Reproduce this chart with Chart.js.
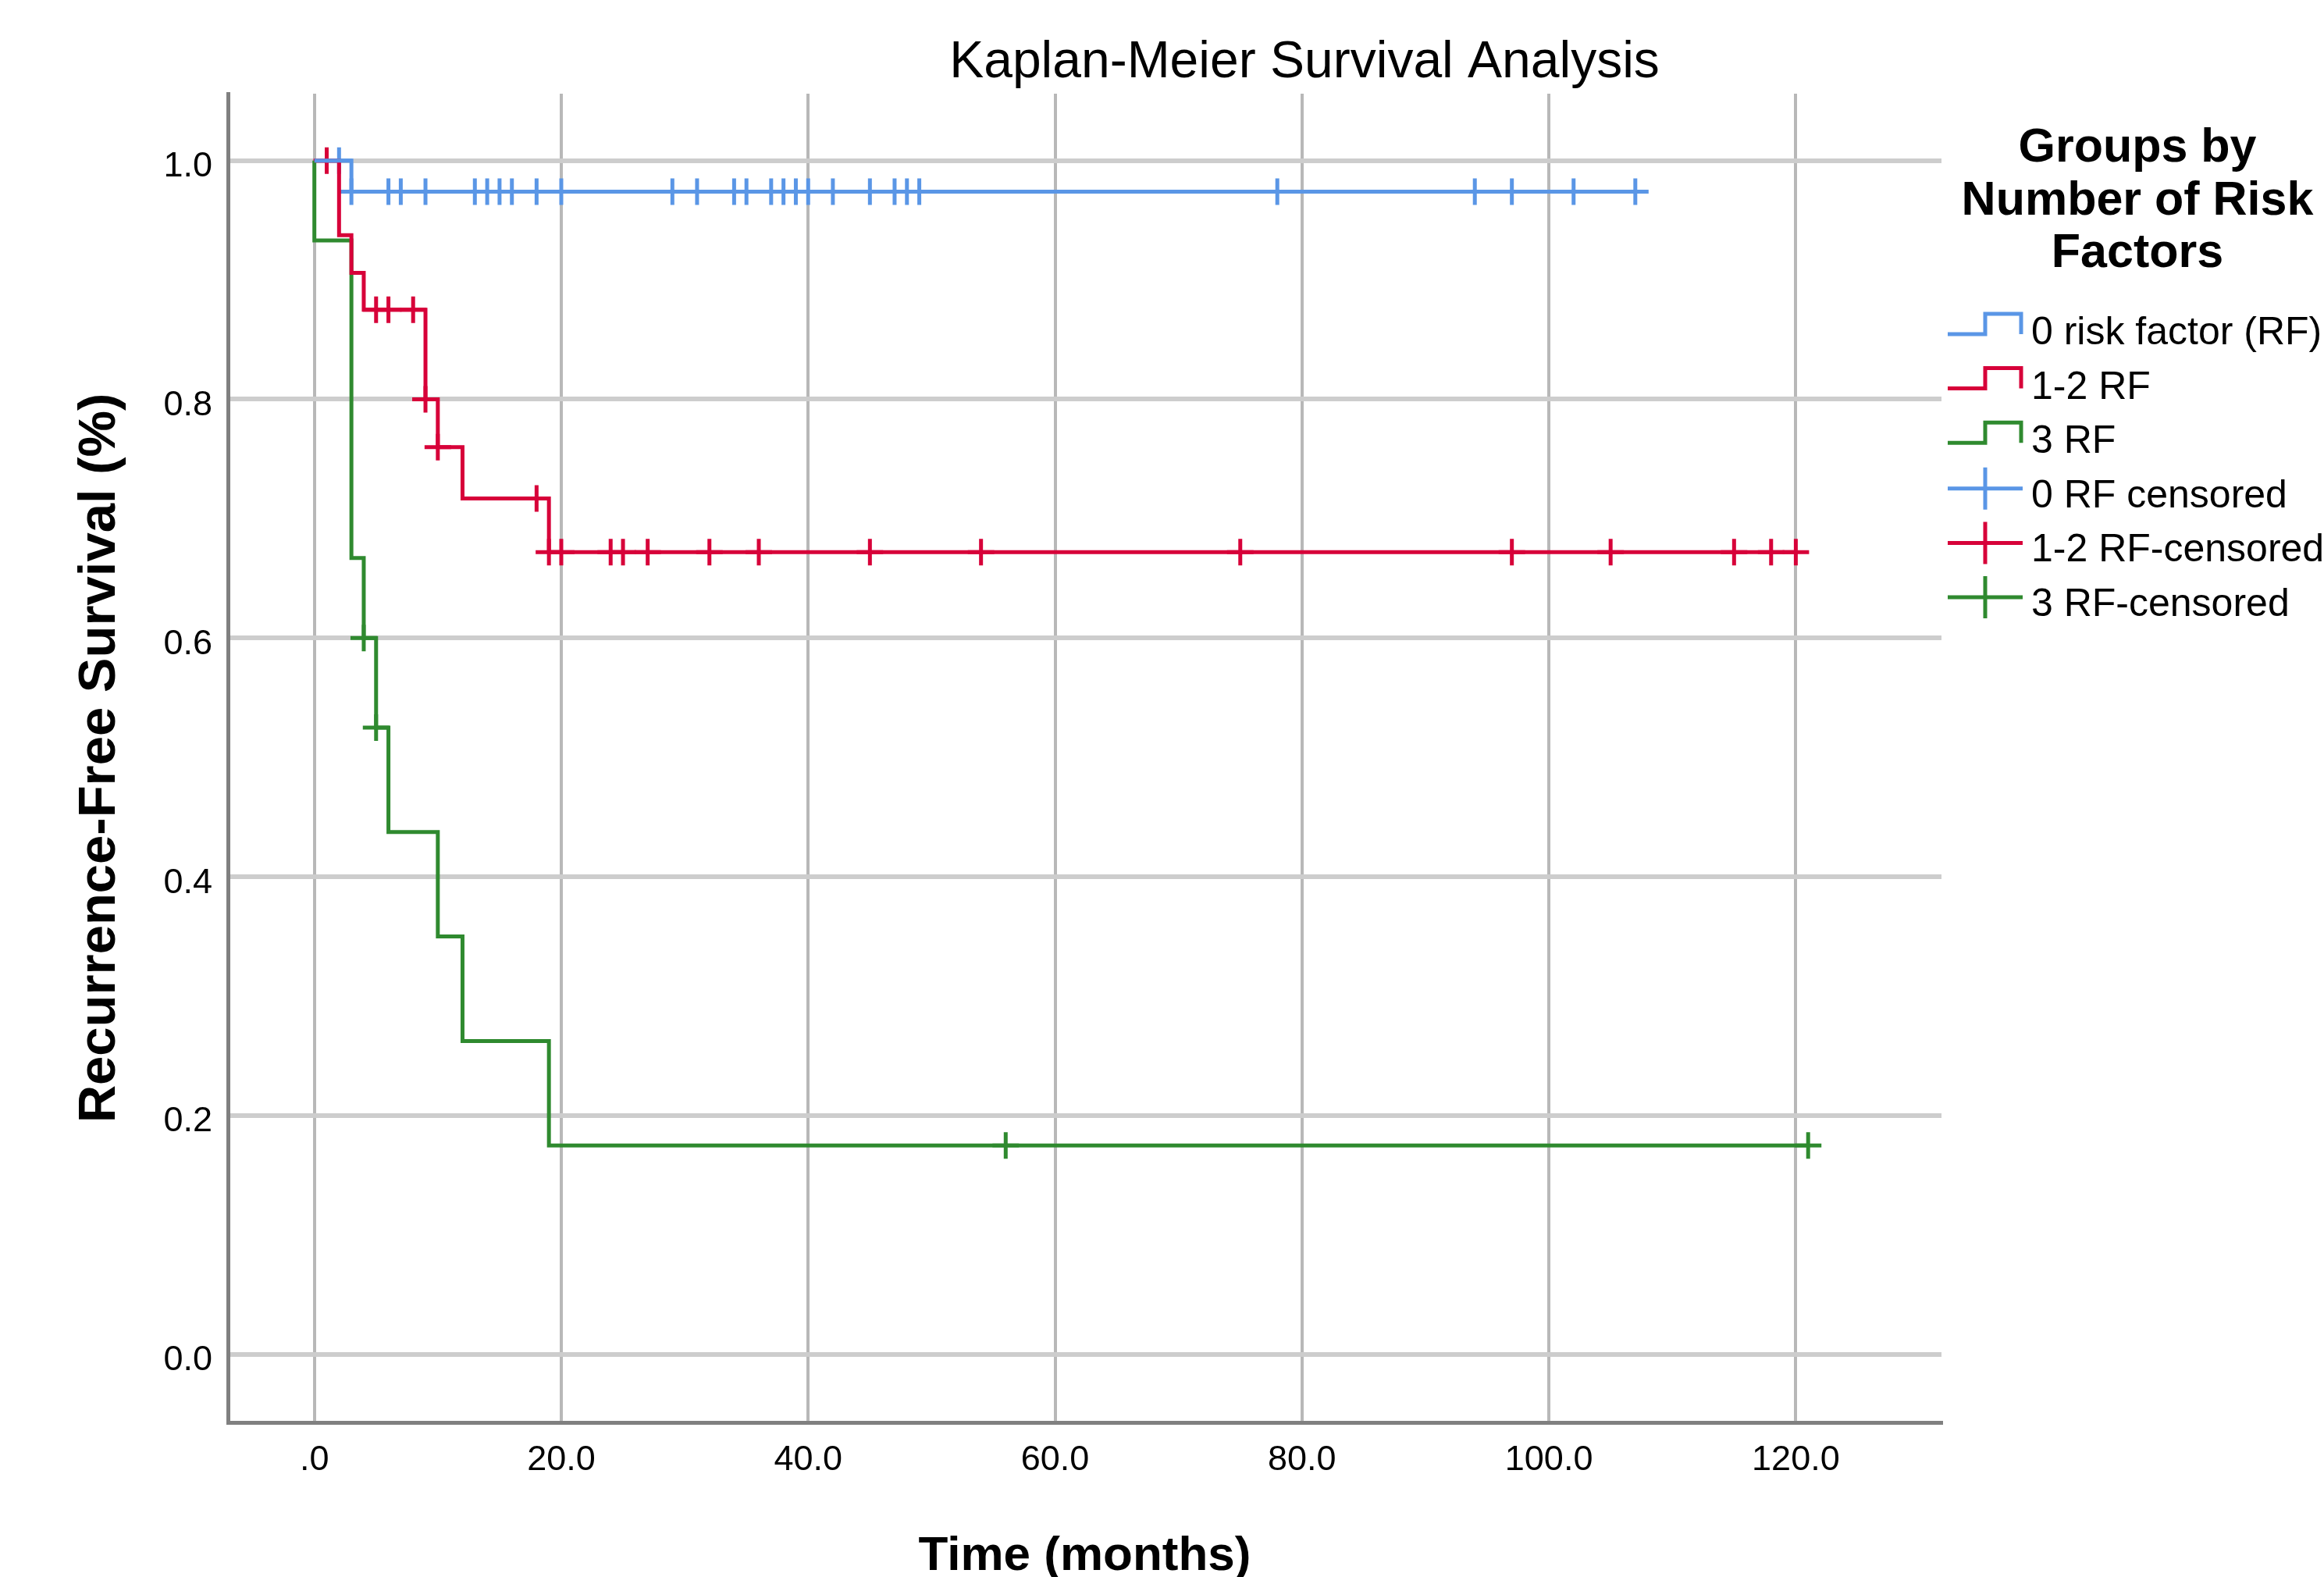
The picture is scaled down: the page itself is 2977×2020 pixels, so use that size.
<!DOCTYPE html>
<html>
<head>
<meta charset="utf-8">
<title>Kaplan-Meier Survival Analysis</title>
<script src="https://cdn.jsdelivr.net/npm/chart.js@4.4.1/dist/chart.umd.min.js"></script>
<style>
    html, body { margin: 0; padding: 0; background: #ffffff; }
    canvas { display: block; }
</style>
</head>
<body>
<canvas id="kmChart" width="2977" height="2020"></canvas>
<script>
// Survival step curves: event times (months) and survival after each step
const rf0Times = [0, 3, 107];
const rf0Surv = [1.0, 0.974, 0.974];
const rf12Times = [0, 2, 3, 4, 9, 10, 12, 19, 120];
const rf12Surv = [1.0, 0.9375, 0.906, 0.875, 0.80, 0.76, 0.717, 0.672, 0.672];
const rf3Times = [0, 0, 3, 4, 5, 6, 10, 12, 19, 121];
const rf3Surv = [1.0, 0.933, 0.667, 0.60, 0.525, 0.4375, 0.35, 0.2625, 0.175, 0.175];

// Censored observations
const rf0CensorTimes = [2, 3, 6, 7, 9, 13, 14, 15, 16, 18, 20, 29, 31, 34, 35, 37, 38, 39, 40, 42, 45, 47, 48, 49, 78, 94, 97, 102, 107];
const rf0CensorSurv = [1.0, 0.974, 0.974, 0.974, 0.974, 0.974, 0.974, 0.974, 0.974, 0.974, 0.974, 0.974, 0.974, 0.974, 0.974,
    0.974, 0.974, 0.974, 0.974, 0.974, 0.974, 0.974, 0.974, 0.974, 0.974, 0.974, 0.974, 0.974, 0.974];
const rf12CensorTimes = [1, 5, 6, 8, 9, 10, 18, 19, 20, 24, 25, 27, 32, 36, 45, 54, 75, 97, 105, 115, 118, 120];
const rf12CensorSurv = [1.0, 0.875, 0.875, 0.875, 0.80, 0.76, 0.717, 0.672, 0.672, 0.672, 0.672, 0.672, 0.672, 0.672,
    0.672, 0.672, 0.672, 0.672, 0.672, 0.672, 0.672, 0.672];
const rf3CensorTimes = [4, 5, 56, 121];
const rf3CensorSurv = [0.60, 0.525, 0.175, 0.175];

// Axis ticks and labels
const xTickValues = [0, 20, 40, 60, 80, 100, 120];
const xTickLabels = ['.0', '20.0', '40.0', '60.0', '80.0', '100.0', '120.0'];
const yTickValues = [0, 0.2, 0.4, 0.6, 0.8, 1.0];
const yTickLabels = ['0.0', '0.2', '0.4', '0.6', '0.8', '1.0'];

// Texts
const chartTitle = 'Kaplan-Meier Survival Analysis';
const xAxisTitle = 'Time (months)';
const yAxisTitle = 'Recurrence-Free Survival (%)';
const legendTitle = ['Groups by', 'Number of Risk', 'Factors'];
const groupNames = ['0 risk factor (RF)', '1-2 RF', '3 RF'];
const censorNames = ['0 RF censored', '1-2 RF-censored', '3 RF-censored'];
const groupColors = ['#5a96e6', '#d70039', '#2f8a2f'];

const FONT = '"Liberation Sans", Arial, sans-serif';

function toPoints(xs, ys) {
    return xs.map((x, i) => ({ x: x, y: ys[i] }));
}

function curve(label, xs, ys, color) {
    return {
        label: label,
        data: toPoints(xs, ys),
        showLine: true,
        stepped: 'before',
        borderColor: color,
        borderWidth: 5,
        pointRadius: 0,
        fill: false
    };
}

function censored(label, xs, ys, color) {
    return {
        label: label,
        data: toPoints(xs, ys),
        showLine: false,
        pointStyle: 'cross',
        pointRadius: 17,
        pointBorderWidth: 5,
        pointBorderColor: color,
        pointBackgroundColor: color
    };
}

// Draws the title and the SPSS style legend on the right
const spssDecor = {
    id: 'spssDecor',
    afterDraw(chart) {
        const ctx = chart.ctx;
        const area = chart.chartArea;
        ctx.save();
        ctx.fillStyle = '#000000';
        ctx.textBaseline = 'alphabetic';

        ctx.textAlign = 'center';
        ctx.font = '66px ' + FONT;
        ctx.fillText(chartTitle, 1671, 99);

        ctx.font = 'bold 61px ' + FONT;
        legendTitle.forEach((line, i) => {
            ctx.fillText(line, 2738, 207 + i * 67.5);
        });

        const x0 = area.right + 8;
        const xm = x0 + 48;
        const x1 = x0 + 94;
        const tx = x0 + 107;
        ctx.lineWidth = 5;
        ctx.lineCap = 'butt';
        ctx.font = '50px ' + FONT;
        ctx.textAlign = 'left';

        const names = groupNames.concat(censorNames);
        names.forEach((name, i) => {
            const base = 441 + i * 69.6;
            const color = groupColors[i % 3];
            ctx.strokeStyle = color;
            ctx.beginPath();
            if (i < 3) {
                ctx.moveTo(x0, base - 13);
                ctx.lineTo(xm, base - 13);
                ctx.lineTo(xm, base - 39);
                ctx.lineTo(x1, base - 39);
                ctx.lineTo(x1, base - 13);
            } else {
                const cy = base - 24;
                ctx.moveTo(x0, cy);
                ctx.lineTo(x1 + 2, cy);
                ctx.moveTo(xm, cy - 27);
                ctx.lineTo(xm, cy + 27);
            }
            ctx.stroke();
            ctx.fillStyle = '#000000';
            ctx.fillText(name, tx, base);
        });
        ctx.restore();
    }
};

const ctx = document.getElementById('kmChart').getContext('2d');
new Chart(ctx, {
    type: 'scatter',
    data: {
        datasets: [
            curve(groupNames[0], rf0Times, rf0Surv, groupColors[0]),
            curve(groupNames[1], rf12Times, rf12Surv, groupColors[1]),
            curve(groupNames[2], rf3Times, rf3Surv, groupColors[2]),
            censored(censorNames[0], rf0CensorTimes, rf0CensorSurv, groupColors[0]),
            censored(censorNames[1], rf12CensorTimes, rf12CensorSurv, groupColors[1]),
            censored(censorNames[2], rf3CensorTimes, rf3CensorSurv, groupColors[2])
        ]
    },
    options: {
        responsive: false,
        animation: false,
        devicePixelRatio: 1,
        layout: {
            padding: { left: 0, right: 490, top: 120, bottom: 0 }
        },
        plugins: {
            legend: { display: false },
            tooltip: { enabled: false },
            title: { display: false }
        },
        scales: {
            x: {
                type: 'linear',
                min: -7,
                max: 131.8,
                afterBuildTicks: scale => {
                    scale.ticks = xTickValues.map(v => ({ value: v }));
                },
                afterFit: scale => {
                    scale.height = 198;
                },
                ticks: {
                    padding: 22,
                    color: '#000000',
                    font: { family: FONT, size: 45 },
                    maxRotation: 0,
                    callback: (value, index) => xTickLabels[index]
                },
                grid: {
                    color: '#b8b8b8',
                    lineWidth: 4,
                    drawTicks: false
                },
                border: { display: true, color: '#808080', width: 5 },
                title: {
                    display: true,
                    text: xAxisTitle,
                    color: '#000000',
                    font: { family: FONT, size: 62, weight: 'bold', lineHeight: 1 },
                    padding: { top: 0, bottom: -5 }
                }
            },
            y: {
                type: 'linear',
                min: -0.057,
                max: 1.056,
                afterBuildTicks: scale => {
                    scale.ticks = yTickValues.map(v => ({ value: v }));
                },
                afterFit: scale => {
                    scale.width = 292;
                },
                ticks: {
                    padding: 20,
                    labelOffset: 8,
                    color: '#000000',
                    font: { family: FONT, size: 45 },
                    callback: (value, index) => yTickLabels[index]
                },
                grid: {
                    color: '#cdcdcd',
                    lineWidth: 6,
                    drawTicks: false
                },
                border: { display: true, color: '#808080', width: 5 },
                title: {
                    display: true,
                    text: yAxisTitle,
                    color: '#000000',
                    font: { family: FONT, size: 67, weight: 'bold', lineHeight: 1 },
                    padding: { top: 95, bottom: 0 }
                }
            }
        }
    },
    plugins: [spssDecor]
});
</script>
</body>
</html>
